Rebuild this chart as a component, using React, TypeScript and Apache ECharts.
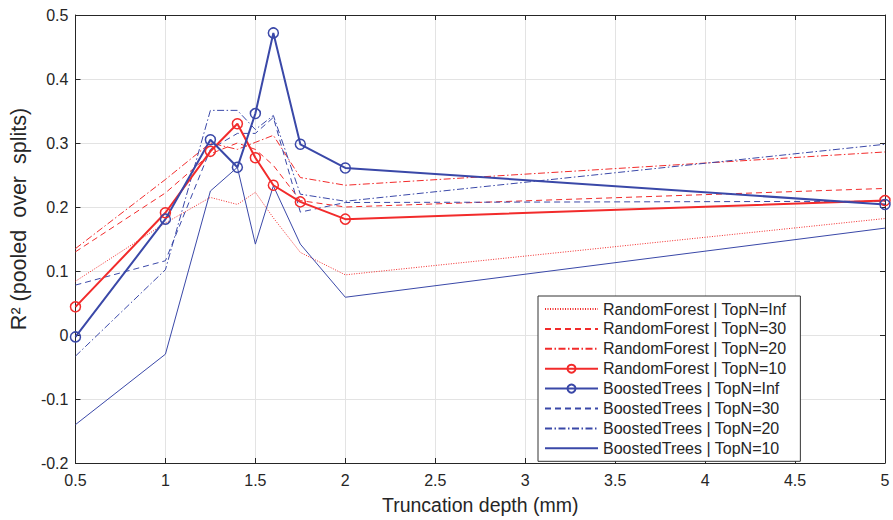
import React, { useEffect, useRef } from "react";
import * as echarts from "echarts";

const depth = [0.5, 1, 1.25, 1.4, 1.5, 1.6, 1.75, 2, 5];

const seriesNames = [
  "RandomForest | TopN=Inf",
  "RandomForest | TopN=30",
  "RandomForest | TopN=20",
  "RandomForest | TopN=10",
  "BoostedTrees | TopN=Inf",
  "BoostedTrees | TopN=30",
  "BoostedTrees | TopN=20",
  "BoostedTrees | TopN=10",
];

const rfInf = [0.084, 0.175, 0.215, 0.204, 0.223, 0.183, 0.129, 0.094, 0.182];
const rf30 = [0.13, 0.222, 0.283, 0.3, 0.29, 0.265, 0.21, 0.2, 0.229];
const rf20 = [0.135, 0.243, 0.3, 0.29, 0.301, 0.312, 0.246, 0.234, 0.286];
const rf10 = [0.044, 0.191, 0.287, 0.33, 0.277, 0.234, 0.208, 0.181, 0.21];
const btInf = [-0.003, 0.181, 0.305, 0.262, 0.346, 0.472, 0.298, 0.261, 0.204];
const bt30 = [0.078, 0.116, 0.29, 0.315, 0.315, 0.34, 0.192, 0.207, 0.209];
const bt20 = [-0.033, 0.102, 0.351, 0.351, 0.321, 0.343, 0.22, 0.209, 0.298];
const bt10 = [-0.14, -0.03, 0.225, 0.262, 0.142, 0.233, 0.142, 0.059, 0.167];

const allValues = [rfInf, rf30, rf20, rf10, btInf, bt30, bt20, bt10];

const RED = "#f22b2b";
const BLUE = "#3a48a8";
const FONT = "Liberation Sans, Arial, Helvetica, sans-serif";
const AXIS = "#262626";

const styles: { color: string; type: any; width: number; marker: boolean }[] = [
  { color: RED, type: [1, 1.5], width: 1, marker: false },
  { color: RED, type: [6, 4], width: 1, marker: false },
  { color: RED, type: [7, 2.5, 1.5, 2.5], width: 1, marker: false },
  { color: RED, type: "solid", width: 2, marker: true },
  { color: BLUE, type: "solid", width: 2, marker: true },
  { color: BLUE, type: [6, 4], width: 1, marker: false },
  { color: BLUE, type: [7, 2.5, 1.5, 2.5], width: 1, marker: false },
  { color: BLUE, type: "solid", width: 1, marker: false },
];

export default function App() {
  const ref = useRef<HTMLDivElement>(null);
  useEffect(() => {
    if (!ref.current) return;
    const chart = echarts.init(ref.current, null, { renderer: "svg" });
    const axisCommon = {
      axisLine: { show: true, onZero: false, lineStyle: { color: AXIS, width: 1 } },
      axisTick: { show: true, inside: true, length: 5, lineStyle: { color: AXIS } },
    };
    chart.setOption({
      animation: false,
      backgroundColor: "#fff",
      textStyle: { fontFamily: FONT },
      grid: { left: 73, right: 8, top: 15, bottom: 55, containLabel: false },
      xAxis: [
        {
          type: "value",
          min: 0.5,
          max: 5,
          interval: 0.5,
          ...axisCommon,
          axisLabel: { color: AXIS, fontSize: 16, margin: 9, fontFamily: FONT },
          splitLine: { show: true, lineStyle: { color: "#e3e3e3", width: 1 } },
          name: "Truncation depth (mm)",
          nameLocation: "middle",
          nameGap: 32,
          nameTextStyle: { color: AXIS, fontSize: 19.5, fontFamily: FONT },
        },
        {
          type: "value",
          position: "top",
          min: 0.5,
          max: 5,
          interval: 0.5,
          ...axisCommon,
          axisLabel: { show: false },
          splitLine: { show: false },
        },
      ],
      yAxis: [
        {
          type: "value",
          min: -0.2,
          max: 0.5,
          interval: 0.1,
          ...axisCommon,
          axisLabel: { color: AXIS, fontSize: 16, margin: 7, fontFamily: FONT },
          splitLine: { show: true, lineStyle: { color: "#e3e3e3", width: 1 } },
          name: "R² (pooled  over  splits)",
          nameLocation: "middle",
          nameGap: 41,
          nameTextStyle: {
            color: AXIS,
            fontSize: 21.5,
            fontFamily: FONT,
            padding: [0, 0, 0, 40],
          },
        },
        {
          type: "value",
          position: "right",
          min: -0.2,
          max: 0.5,
          interval: 0.1,
          ...axisCommon,
          axisLabel: { show: false },
          splitLine: { show: false },
        },
      ],
      legend: {
        orient: "vertical",
        left: 538,
        top: 296,
        itemWidth: 53,
        itemHeight: 10,
        itemGap: 3.9,
        padding: [5, 14, 5, 6],
        backgroundColor: "#fff",
        borderColor: "#333",
        borderWidth: 1,
        textStyle: {
          color: AXIS,
          fontSize: 16,
          lineHeight: 16,
          fontFamily: FONT,
          padding: [0, 0, 0, 0],
        },
        data: seriesNames.map((name, i) =>
          styles[i].marker
            ? { name }
            : { name, itemStyle: { opacity: 0, borderWidth: 0, color: "rgba(0,0,0,0)" } }
        ),
      },
      series: seriesNames.map((name, i) => ({
        name,
        type: "line",
        data: depth.map((d, j) => [d, allValues[i][j]]),
        symbol: styles[i].marker ? "circle" : "none",
        symbolSize: 10,
        showSymbol: styles[i].marker,
        itemStyle: { color: "rgba(0,0,0,0)", borderColor: styles[i].color, borderWidth: 1.5 },
        lineStyle: { color: styles[i].color, type: styles[i].type, width: styles[i].width },
        color: styles[i].color,
        z: styles[i].marker ? 3 : 2,
      })),
    });
    return () => chart.dispose();
  }, []);
  return (
    <div
      ref={ref}
      style={{ position: "fixed", left: 0, top: 0, width: 893, height: 520 }}
    />
  );
}
